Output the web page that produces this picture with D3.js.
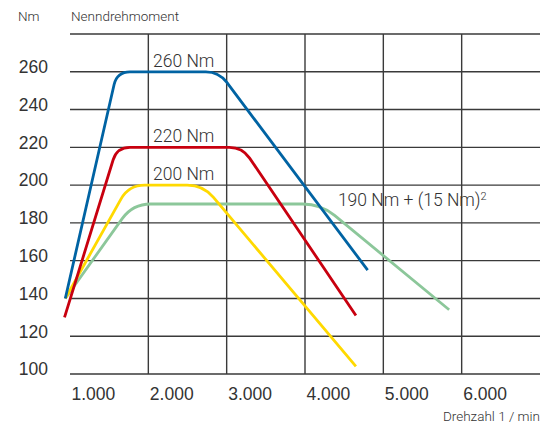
<!DOCTYPE html>
<html>
	<head>
		<meta charset="utf-8">
		<title>Nenndrehmoment</title>
		<style>
* {
	margin: 0;
	padding: 0;
}
body {
	background-color: white;
}
svg {
	display: block;
	font-family: "Roboto", "Liberation Sans", sans-serif;
	font-weight: 300;
	fill: #333;
}
		</style>
	</head>
	<body>
		<div id="chart"></div>
		<script src="https://cdn.jsdelivr.net/npm/d3@7/dist/d3.min.js"></script>
		<script>

// drehzahl (1/min) and drehmoment (Nm) of each curve
var rpm260 = [ 940, 1600, 2900, 4800 ];
var nm260 = [ 140, 260, 260, 155 ];

var rpm220 = [ 930, 1600, 3200, 4650 ];
var nm220 = [ 130, 220, 220, 131 ];

var rpm200 = [ 940, 1750, 2700, 4650 ];
var nm200 = [ 140, 200, 200, 104 ];

var rpm190 = [ 940, 1800, 4200, 5840 ];
var nm190 = [ 140, 190, 190, 134 ];

var xTicks = [ 1000, 2000, 3000, 4000, 5000, 6000 ];
var yTicks = [ 100, 120, 140, 160, 180, 200, 220, 240, 260 ];
var yGrid = [ 100, 120, 140, 160, 180, 200, 220, 240, 260, 280 ];
var xGrid = [ 2000, 3000, 4000, 5000, 6000 ];

var curveLabels = [ '260 Nm', '220 Nm', '200 Nm' ];
var curveLabelNm = [ 260, 220, 200 ];

var width = 541;
var height = 427;

var x = d3.scaleLinear().domain( [ 1000, 7000 ] ).range( [ 70, 540 ] );
var y = d3.scaleLinear().domain( [ 100, 280 ] ).range( [ 374, 34 ] );

var de = d3.formatLocale( { decimal: ',', thousands: '.', grouping: [ 3 ], currency: [ '', ' €' ] } );

var svg = d3.select( '#chart' ).append( 'svg' )
	.attr( 'width', width )
	.attr( 'height', height );

// grid
svg.append( 'g' ).selectAll( 'line' )
	.data( yGrid )
	.enter()
	.append( 'line' )
	.attr( 'x1', x( 1000 ) )
	.attr( 'x2', x( 7000 ) )
	.attr( 'y1', function ( d ) { return y( d ); } )
	.attr( 'y2', function ( d ) { return y( d ); } )
	.style( 'stroke', '#3a3a3a' )
	.style( 'stroke-width', 1.4 );

svg.append( 'g' ).selectAll( 'line' )
	.data( xGrid )
	.enter()
	.append( 'line' )
	.attr( 'x1', function ( d ) { return x( d ); } )
	.attr( 'x2', function ( d ) { return x( d ); } )
	.attr( 'y1', y( 280 ) )
	.attr( 'y2', y( 100 ) )
	.style( 'stroke', '#3a3a3a' )
	.style( 'stroke-width', 1.4 );

// axes, only for the labels
var yAxis = svg.append( 'g' )
	.attr( 'transform', 'translate(' + x( 1000 ) + ',0)' )
	.call( d3.axisLeft( y ).tickValues( yTicks ).tickSize( 0 ).tickPadding( 22 ) );
yAxis.select( '.domain' ).remove();
yAxis.selectAll( 'text' )
	.attr( 'dy', '0.05em' )
	.style( 'font-family', 'inherit' )
	.style( 'font-size', '17.5px' )
	.style( 'fill', '#333' );

var xAxis = svg.append( 'g' )
	.attr( 'transform', 'translate(0,' + y( 100 ) + ')' )
	.call( d3.axisBottom( x ).tickValues( xTicks ).tickSize( 0 ).tickFormat( de.format( ',d' ) ) );
xAxis.select( '.domain' ).remove();
xAxis.selectAll( 'text' )
	.attr( 'text-anchor', 'start' )
	.attr( 'x', 1 )
	.attr( 'y', 26 )
	.attr( 'dy', 0 )
	.style( 'font-family', 'inherit' )
	.style( 'font-size', '17.5px' )
	.style( 'fill', '#333' );

// line with rounded corners
function roundedPath( xs, ys, r ) {
	var p = xs.map( function ( d, i ) { return [ x( d ), y( ys[i] ) ]; } );
	var path = d3.path();
	path.moveTo( p[0][0], p[0][1] );
	for ( var i = 1; i < p.length - 1; i++ ) {
		var a = p[i - 1], b = p[i], c = p[i + 1];
		var l1 = Math.hypot( b[0] - a[0], b[1] - a[1] );
		var l2 = Math.hypot( c[0] - b[0], c[1] - b[1] );
		var r1 = Math.min( r, l1 / 2 ), r2 = Math.min( r, l2 / 2 );
		path.lineTo( b[0] - ( b[0] - a[0] ) / l1 * r1, b[1] - ( b[1] - a[1] ) / l1 * r1 );
		path.quadraticCurveTo( b[0], b[1], b[0] + ( c[0] - b[0] ) / l2 * r2, b[1] + ( c[1] - b[1] ) / l2 * r2 );
	}
	path.lineTo( p[p.length - 1][0], p[p.length - 1][1] );
	return path.toString();
}

var curves = [
	{ rpm: rpm190, nm: nm190, color: '#8cc79a', r: 18 },
	{ rpm: rpm200, nm: nm200, color: '#ffd900', r: 16 },
	{ rpm: rpm220, nm: nm220, color: '#c8000f', r: 13 },
	{ rpm: rpm260, nm: nm260, color: '#0063a3', r: 13 }
];

svg.append( 'g' ).selectAll( 'path' )
	.data( curves )
	.enter()
	.append( 'path' )
	.attr( 'd', function ( d ) { return roundedPath( d.rpm, d.nm, d.r ); } )
	.style( 'fill', 'none' )
	.style( 'stroke', function ( d ) { return d.color; } )
	.style( 'stroke-width', 2.8 )
	.style( 'stroke-linejoin', 'round' );

// curve labels
svg.append( 'g' ).selectAll( 'text' )
	.data( curveLabels )
	.enter()
	.append( 'text' )
	.attr( 'x', x( 2060 ) )
	.attr( 'y', function ( d, i ) { return y( curveLabelNm[i] ) - 5; } )
	.style( 'font-size', '17.5px' )
	.text( function ( d ) { return d; } );

var label190 = svg.append( 'text' )
	.attr( 'x', x( 4420 ) )
	.attr( 'y', y( 190 ) + 2 )
	.style( 'font-size', '17.5px' );
label190.append( 'tspan' ).text( '190 Nm + (15 Nm)' );
label190.append( 'tspan' )
	.attr( 'dy', -6 )
	.style( 'font-size', '11px' )
	.text( '2' );

// titles
svg.append( 'text' )
	.attr( 'x', 18 )
	.attr( 'y', 21 )
	.style( 'font-size', '13.5px' )
	.text( 'Nm' );

svg.append( 'text' )
	.attr( 'x', 71 )
	.attr( 'y', 21 )
	.style( 'font-size', '13.5px' )
	.text( 'Nenndrehmoment' );

svg.append( 'text' )
	.attr( 'x', 540 )
	.attr( 'y', 421 )
	.attr( 'text-anchor', 'end' )
	.style( 'font-size', '13.5px' )
	.text( 'Drehzahl 1 / min' );

		</script>
	</body>
</html>
